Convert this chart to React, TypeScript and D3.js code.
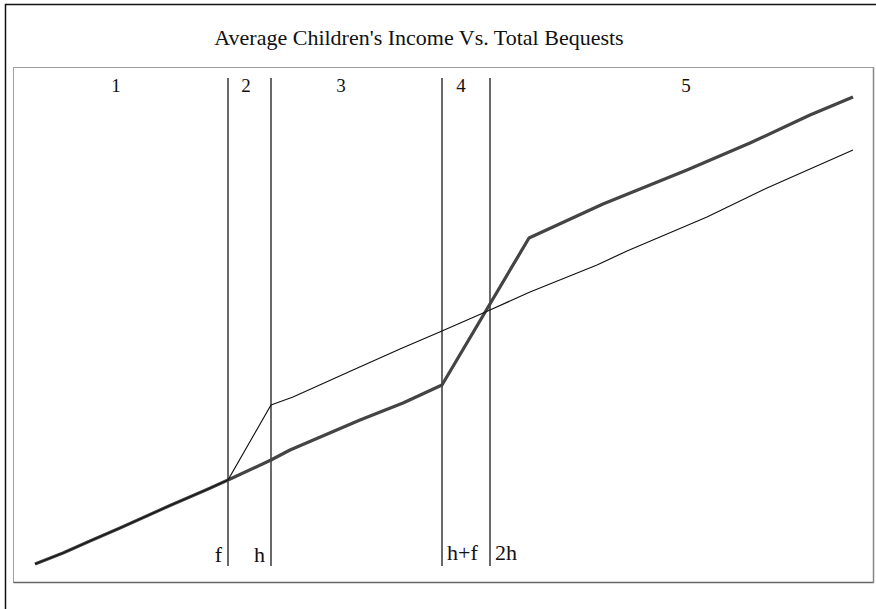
import React from "react";
import * as d3 from "d3";

// Total bequests (x) and average children's income (y) for the two regimes
const thickX = [0, 2.8, 5.5, 8.5, 13.5, 17.2, 19.3, 23.6, 25.5, 32.5, 36.8, 40.7, 49.4, 56.8, 65.2, 71.5, 77.5, 81.8];
const thickY = [0, 1.1, 2.3, 3.6, 5.85, 7.45, 8.4, 10.4, 11.4, 14.4, 16.1, 17.9, 32.6, 36.0, 39.4, 42.1, 44.9, 46.7];

const thinX = [0, 2.8, 5.5, 8.5, 13.5, 17.2, 19.3, 23.6, 25.8, 31.8, 36.5, 40.7, 45.5, 49.5, 56.2, 59.2, 67.2, 73.2, 81.8];
const thinY = [0, 1.1, 2.3, 3.6, 5.85, 7.45, 8.4, 15.9, 16.7, 19.4, 21.5, 23.3, 25.4, 27.2, 29.9, 31.3, 34.7, 37.6, 41.4];

// Threshold markers along the bequest axis
const markerLabels = ["f", "h", "h+f", "2h"];
const markerX = [19.3, 23.6, 40.7, 45.5];

// Region numbers across the top
const regionLabels = ["1", "2", "3", "4", "5"];
const regionX = [8.1, 21.1, 30.6, 42.6, 65.1];

const title = "Average Children's Income Vs. Total Bequests";

const W = 876;
const H = 609;

export default function App() {
  const x = d3.scaleLinear().domain([0, 82]).range([35, 855]);
  const y = d3.scaleLinear().domain([0, 47]).range([564, 94]);

  const line = d3
    .line<[number, number]>()
    .x((d) => x(d[0]))
    .y((d) => y(d[1]));

  const thick = thickX.map((v, i) => [v, thickY[i]] as [number, number]);
  const thin = thinX.map((v, i) => [v, thinY[i]] as [number, number]);

  const font = "'Liberation Serif', 'Times New Roman', serif";
  const markerTop = y(48.6);
  const markerBottom = y(-0.2);

  return (
    <svg
      width={W}
      height={H}
      style={{ position: "absolute", left: 0, top: 0, background: "#fff" }}
      fontFamily={font}
    >
      {/* outer frame */}
      <rect x={5.5} y={4.5} width={W + 10} height={H + 10} fill="none" stroke="#111" strokeWidth={1.5} />
      {/* plot box */}
      <rect x={13.5} y={67.5} width={860} height={515} fill="none" stroke="#a0a0a0" strokeWidth={1} />
      <line x1={13.5} x2={874} y1={582.5} y2={582.5} stroke="#666" strokeWidth={1.5} />
      <line x1={873.5} x2={873.5} y1={67.5} y2={583} stroke="#888" strokeWidth={1.5} />

      <text x={419} y={45} textAnchor="middle" fontSize={22} fill="#111">
        {title}
      </text>

      {markerX.map((v, i) => (
        <line
          key={"m" + i}
          x1={x(v)}
          x2={x(v)}
          y1={markerTop}
          y2={markerBottom}
          stroke="#444"
          strokeWidth={1.6}
        />
      ))}

      {regionLabels.map((t, i) => (
        <text key={"r" + i} x={x(regionX[i])} y={92} textAnchor="middle" fontSize={19} fill="#111">
          {t}
        </text>
      ))}

      {markerLabels.map((t, i) => {
        const left = i < 2;
        return (
          <text
            key={"l" + i}
            x={left ? x(markerX[i]) - 6 : x(markerX[i]) + 5}
            y={left ? 562 : 560}
            textAnchor={left ? "end" : "start"}
            fontSize={22}
            fill="#111"
          >
            {t}
          </text>
        );
      })}

      <path d={line(thick) || ""} fill="none" stroke="#444" strokeWidth={3.2} strokeLinejoin="round" />
      <path d={line(thin) || ""} fill="none" stroke="#111" strokeWidth={1.2} strokeLinejoin="round" />
    </svg>
  );
}
